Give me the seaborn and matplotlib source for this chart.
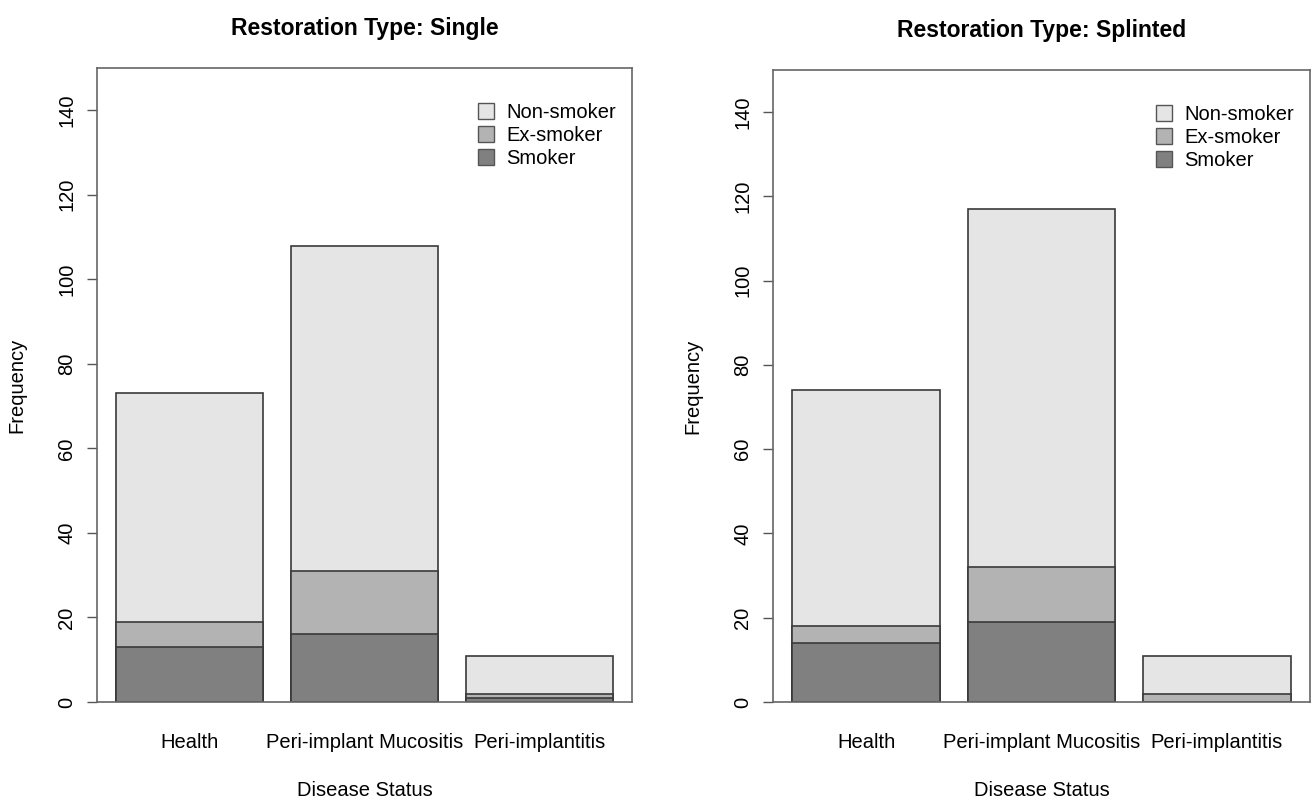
import matplotlib
matplotlib.use("Agg")
import matplotlib.pyplot as plt
import matplotlib.patches as mpatches
import seaborn as sns
import pandas as pd

# Stacked frequencies by disease status, per restoration type
status = ["Health", "Peri-implant Mucositis", "Peri-implantitis"]
groups = ["Smoker", "Ex-smoker", "Non-smoker"]

single_smoker = [13, 16, 1]
single_ex = [6, 15, 1]
single_non = [54, 77, 9]

splinted_smoker = [14, 19, 0]
splinted_ex = [4, 13, 2]
splinted_non = [56, 85, 9]

colors = {"Smoker": "#808080", "Ex-smoker": "#b3b3b3", "Non-smoker": "#e5e5e5"}

sns.set_theme(style="white")
plt.rcParams["font.family"] = ["Liberation Sans", "DejaVu Sans"]
plt.rcParams["text.color"] = "black"
plt.rcParams["axes.labelcolor"] = "black"
plt.rcParams["xtick.color"] = "black"
plt.rcParams["ytick.color"] = "black"

fig = plt.figure(figsize=(13.14, 8.02), dpi=100)
ax1 = fig.add_axes([97 / 1314, 100 / 802, 535 / 1314, 634 / 802])
ax2 = fig.add_axes([773 / 1314, 100 / 802, 537 / 1314, 632 / 802])


def draw_panel(ax, smoker, ex, non, title):
    df = pd.DataFrame({"status": status, "Smoker": smoker, "Ex-smoker": ex, "Non-smoker": non})
    # cumulative heights, drawn tallest first so lower segments sit on top
    cums = []
    run = [0] * len(status)
    for g in groups:
        run = [r + v for r, v in zip(run, df[g])]
        cums.append((g, list(run)))
    for g, cum in reversed(cums):
        sns.barplot(x=status, y=cum, ax=ax, color=colors[g], width=0.84,
                    edgecolor="#3a3a3a", linewidth=1.2, saturation=1, order=status)
    ax.set_xlim(-0.53, 2.53)
    ax.set_ylim(0, 150)
    ax.set_yticks(range(0, 141, 20))
    ax.tick_params(axis="y", direction="out", length=7, width=1, color="#555555",
                   labelcolor="black", labelsize=14.5, pad=8, left=True)
    for lab in ax.get_yticklabels():
        lab.set_rotation(90)
        lab.set_va("center")
    ax.tick_params(axis="x", length=0, labelsize=14.5, labelcolor="black", pad=22)
    for s in ax.spines.values():
        s.set_color("#666666")
        s.set_linewidth(1.2)
    ax.set_xlabel("Disease Status", fontsize=14.5, labelpad=21)
    ax.set_ylabel("Frequency", fontsize=14.5, labelpad=22)
    ax.set_title(title, fontsize=16.5, fontweight="bold", pad=24)
    handles = [mpatches.Patch(facecolor=colors[g], edgecolor="#555555", label=g)
               for g in ["Non-smoker", "Ex-smoker", "Smoker"]]
    ax.legend(handles=handles, loc="upper right", frameon=False, fontsize=14.5,
              handlelength=0.8, handleheight=0.8, handletextpad=0.6,
              labelspacing=0.2, borderaxespad=0.4, bbox_to_anchor=(1.0, 0.97))


draw_panel(ax1, single_smoker, single_ex, single_non, "Restoration Type: Single")
draw_panel(ax2, splinted_smoker, splinted_ex, splinted_non, "Restoration Type: Splinted")

fig.savefig("out.png", dpi=100)
